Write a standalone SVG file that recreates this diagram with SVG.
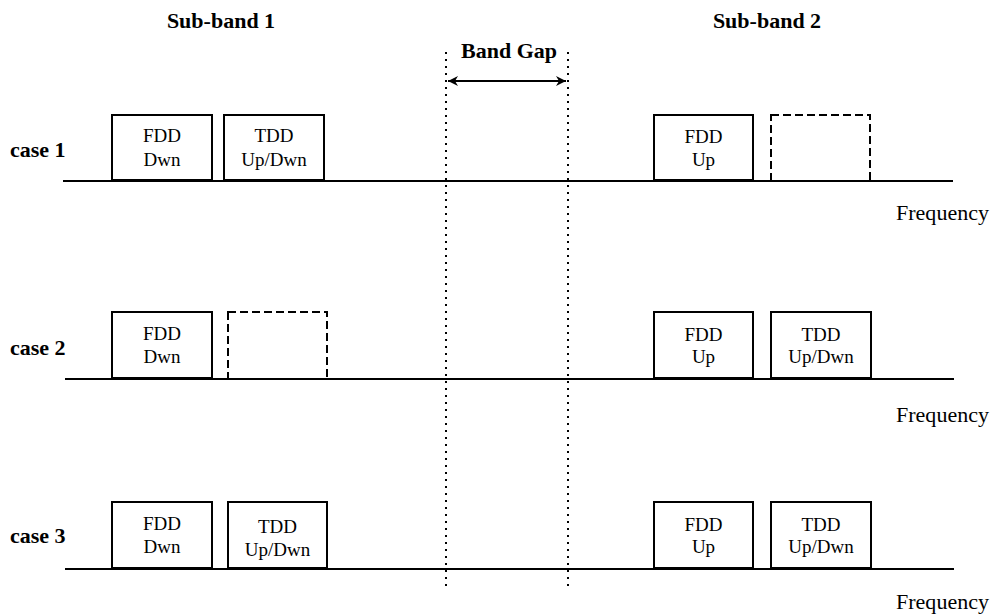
<svg xmlns="http://www.w3.org/2000/svg" width="991" height="615" viewBox="0 0 991 615">
<style>
text{font-family:"Liberation Serif","Times New Roman",serif;fill:#000}
.b{font-weight:bold;font-size:22px}
.t{font-size:19px;text-anchor:middle}
.f{font-size:21px}
.box{fill:#fff;stroke:#000;stroke-width:2}
.dash{fill:none;stroke:#000;stroke-width:2;stroke-dasharray:8 4}
.axis{stroke:#000;stroke-width:2;fill:none}
.dot{stroke:#000;stroke-width:2;stroke-dasharray:2 5;fill:none}
</style>
<defs>
<marker id="ah" viewBox="0 0 10 10" refX="10" refY="5" markerWidth="5.5" markerHeight="5" orient="auto-start-reverse" markerUnits="strokeWidth">
<path d="M0,0 L10,5 L0,10 L3,5 z" fill="#000"/>
</marker>
</defs>
<rect width="991" height="615" fill="#fff"/>
<g id="headers">
<text class="b" x="221" y="28" text-anchor="middle">Sub-band 1</text>
<text class="b" x="767" y="28" text-anchor="middle">Sub-band 2</text>
<text class="b" x="509" y="58" text-anchor="middle">Band Gap</text>
</g>
<g id="connectors">
<line class="axis" x1="63" y1="181" x2="953" y2="181"/>
<line class="axis" x1="65" y1="379" x2="954" y2="379"/>
<line class="axis" x1="65" y1="569" x2="954" y2="569"/>
<line class="dot" x1="446" y1="52" x2="446" y2="586"/>
<line class="dot" x1="568" y1="52" x2="568" y2="586"/>
<line class="axis" x1="448" y1="81" x2="566" y2="81" marker-start="url(#ah)" marker-end="url(#ah)"/>
</g>
<g id="labels">
<text class="b" x="10" y="157">case 1</text>
<text class="b" x="10" y="355">case 2</text>
<text class="b" x="10" y="543">case 3</text>
<text class="f" x="896" y="220" textLength="93" lengthAdjust="spacingAndGlyphs">Frequency</text>
<text class="f" x="896" y="422" textLength="93" lengthAdjust="spacingAndGlyphs">Frequency</text>
<text class="f" x="896" y="609" textLength="93" lengthAdjust="spacingAndGlyphs">Frequency</text>
</g>
<g id="c1-fdd-dwn"><rect class="box" x="112" y="115" width="100" height="65"/><text class="t" x="162" y="142">FDD</text><text class="t" x="162" y="166">Dwn</text></g>
<g id="c1-tdd"><rect class="box" x="224" y="115" width="100" height="65"/><text class="t" x="274" y="142">TDD</text><text class="t" x="274" y="166">Up/Dwn</text></g>
<g id="c1-fdd-up"><rect class="box" x="654" y="115" width="99" height="65"/><text class="t" x="703.5" y="143">FDD</text><text class="t" x="703.5" y="166">Up</text></g>
<g id="c1-empty"><rect class="dash" x="771" y="115" width="99" height="66"/></g>
<g id="c2-fdd-dwn"><rect class="box" x="112" y="312" width="100" height="66"/><text class="t" x="162" y="340">FDD</text><text class="t" x="162" y="363">Dwn</text></g>
<g id="c2-empty"><rect class="dash" x="228" y="312" width="99" height="67"/></g>
<g id="c2-fdd-up"><rect class="box" x="654" y="312" width="99" height="66"/><text class="t" x="703.5" y="341">FDD</text><text class="t" x="703.5" y="363">Up</text></g>
<g id="c2-tdd"><rect class="box" x="771" y="312" width="100" height="66"/><text class="t" x="821" y="341">TDD</text><text class="t" x="821" y="363">Up/Dwn</text></g>
<g id="c3-fdd-dwn"><rect class="box" x="112" y="502" width="100" height="66"/><text class="t" x="162" y="530">FDD</text><text class="t" x="162" y="553">Dwn</text></g>
<g id="c3-tdd"><rect class="box" x="228" y="502" width="99" height="66"/><text class="t" x="277.5" y="533">TDD</text><text class="t" x="277.5" y="556">Up/Dwn</text></g>
<g id="c3-fdd-up"><rect class="box" x="654" y="502" width="99" height="66"/><text class="t" x="703.5" y="531">FDD</text><text class="t" x="703.5" y="553">Up</text></g>
<g id="c3-tdd-r"><rect class="box" x="771" y="502" width="100" height="66"/><text class="t" x="821" y="531">TDD</text><text class="t" x="821" y="553">Up/Dwn</text></g>
</svg>
